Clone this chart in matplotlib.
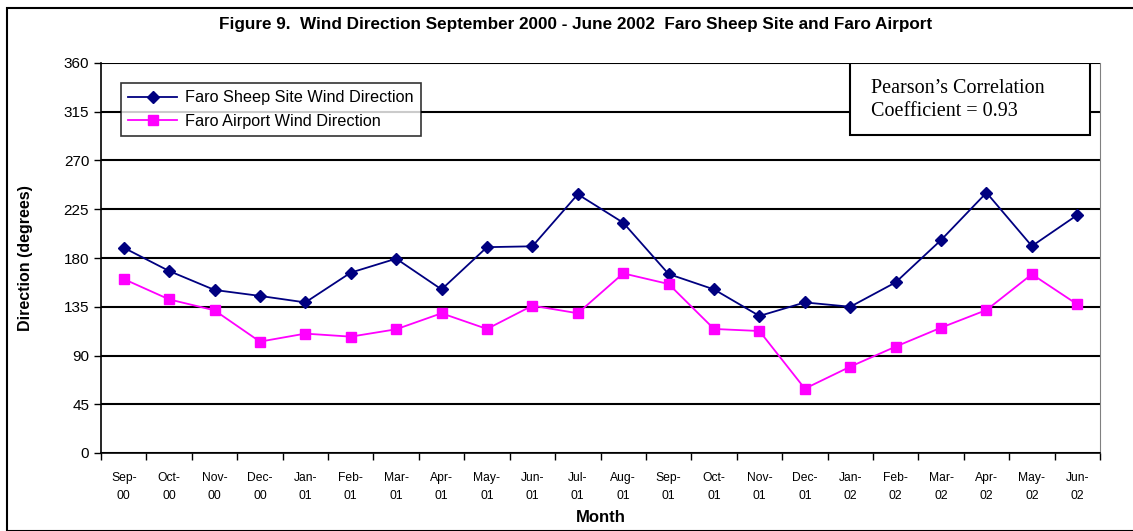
"""Wind direction at Faro sheep site and Faro airport, Sep 2000 - Jun 2002"""

import numpy as np
import matplotlib.pyplot as plt
from matplotlib.patches import Rectangle

months = ['Sep-\n00', 'Oct-\n00', 'Nov-\n00', 'Dec-\n00', 'Jan-\n01', 'Feb-\n01',
          'Mar-\n01', 'Apr-\n01', 'May-\n01', 'Jun-\n01', 'Jul-\n01', 'Aug-\n01',
          'Sep-\n01', 'Oct-\n01', 'Nov-\n01', 'Dec-\n01', 'Jan-\n02', 'Feb-\n02',
          'Mar-\n02', 'Apr-\n02', 'May-\n02', 'Jun-\n02']
sheep_site = [189.5, 168, 150.5, 145, 139, 166.5, 179.4, 151, 190, 190.8, 238.8,
              212.6, 165.2, 151, 126.5, 139, 135, 157.5, 196.6, 240.3, 191, 219.7]
airport = [160.6, 141.8, 131.7, 102.8, 110.2, 107.4, 114.2, 129, 114.5, 136, 129,
           165.8, 156, 114.5, 112.6, 59.4, 79.7, 98.2, 115.7, 132, 165, 137.2]
y_ticks = [0, 45, 90, 135, 180, 225, 270, 315, 360]

plt.rcParams['font.family'] = ['Liberation Sans', 'DejaVu Sans']

fig = plt.figure(figsize=(11.33, 5.31), dpi=100)
ax = fig.add_axes([101/1133, 1 - 453/531, 999/1133, 390/531])

x = np.arange(len(months))
ax.plot(x, sheep_site, '-D', color='#000080', markersize=6.5, linewidth=1.3,
        label='Faro Sheep Site Wind Direction')
ax.plot(x, airport, '-s', color='#FF00FF', markersize=7, linewidth=1.3,
        label='Faro Airport Wind Direction')

ax.set_xlim(-0.5, len(months) - 0.5)
ax.set_ylim(0, 360)
ax.set_yticks(y_ticks)
ax.tick_params(axis='y', labelsize=11, length=5, width=1, direction='out')
ax.set_xticks(x)
ax.set_xticklabels(months, fontsize=8.7, linespacing=1.6)
ax.tick_params(axis='x', which='major', length=0, pad=14)
ax.set_xticks(np.arange(-0.5, len(months)), minor=True)
ax.tick_params(axis='x', which='minor', length=5, width=1, direction='out')

ax.yaxis.grid(True, color='black', linewidth=1.5)
ax.set_axisbelow(True)
ax.spines['top'].set_visible(False)
ax.spines['right'].set_color('#808080')
ax.spines['left'].set_linewidth(1.2)
ax.spines['bottom'].set_linewidth(1.2)

ax.set_xlabel('Month', fontsize=12, fontweight='bold', labelpad=6)
ax.set_ylabel('Direction (degrees)', fontsize=11.5, fontweight='bold', labelpad=22)

leg = ax.legend(loc='upper left', bbox_to_anchor=(0.02, 0.949), fontsize=11.7,
                frameon=True, fancybox=False, edgecolor='black',
                borderpad=0.45, handlelength=3.0, handletextpad=0.5,
                labelspacing=0.55, borderaxespad=0)
leg.get_frame().set_linewidth(1.2)

# correlation note box
ax.add_patch(Rectangle((0.7497, 0.815), 0.2402, 0.185, transform=ax.transAxes,
                       facecolor='white', edgecolor='black', linewidth=1.5,
                       zorder=5))
ax.text(0.7708, 0.905, 'Pearson\u2019s Correlation\nCoefficient = 0.93',
        transform=ax.transAxes, fontsize=14.5, family='Liberation Serif',
        va='center', ha='left', linespacing=1.3, zorder=6)

fig.text(576/1133, 1 - 24/531,
         'Figure 9.  Wind Direction September 2000 - June 2002  Faro Sheep Site and Faro Airport',
         fontsize=12.3, fontweight='bold', ha='center', va='center')

fig.patches.append(Rectangle((7/1133, 0), 1, 1 - 8/531, transform=fig.transFigure,
                             fill=False, edgecolor='black', linewidth=1.5))

fig.savefig('out.png', dpi=100)
